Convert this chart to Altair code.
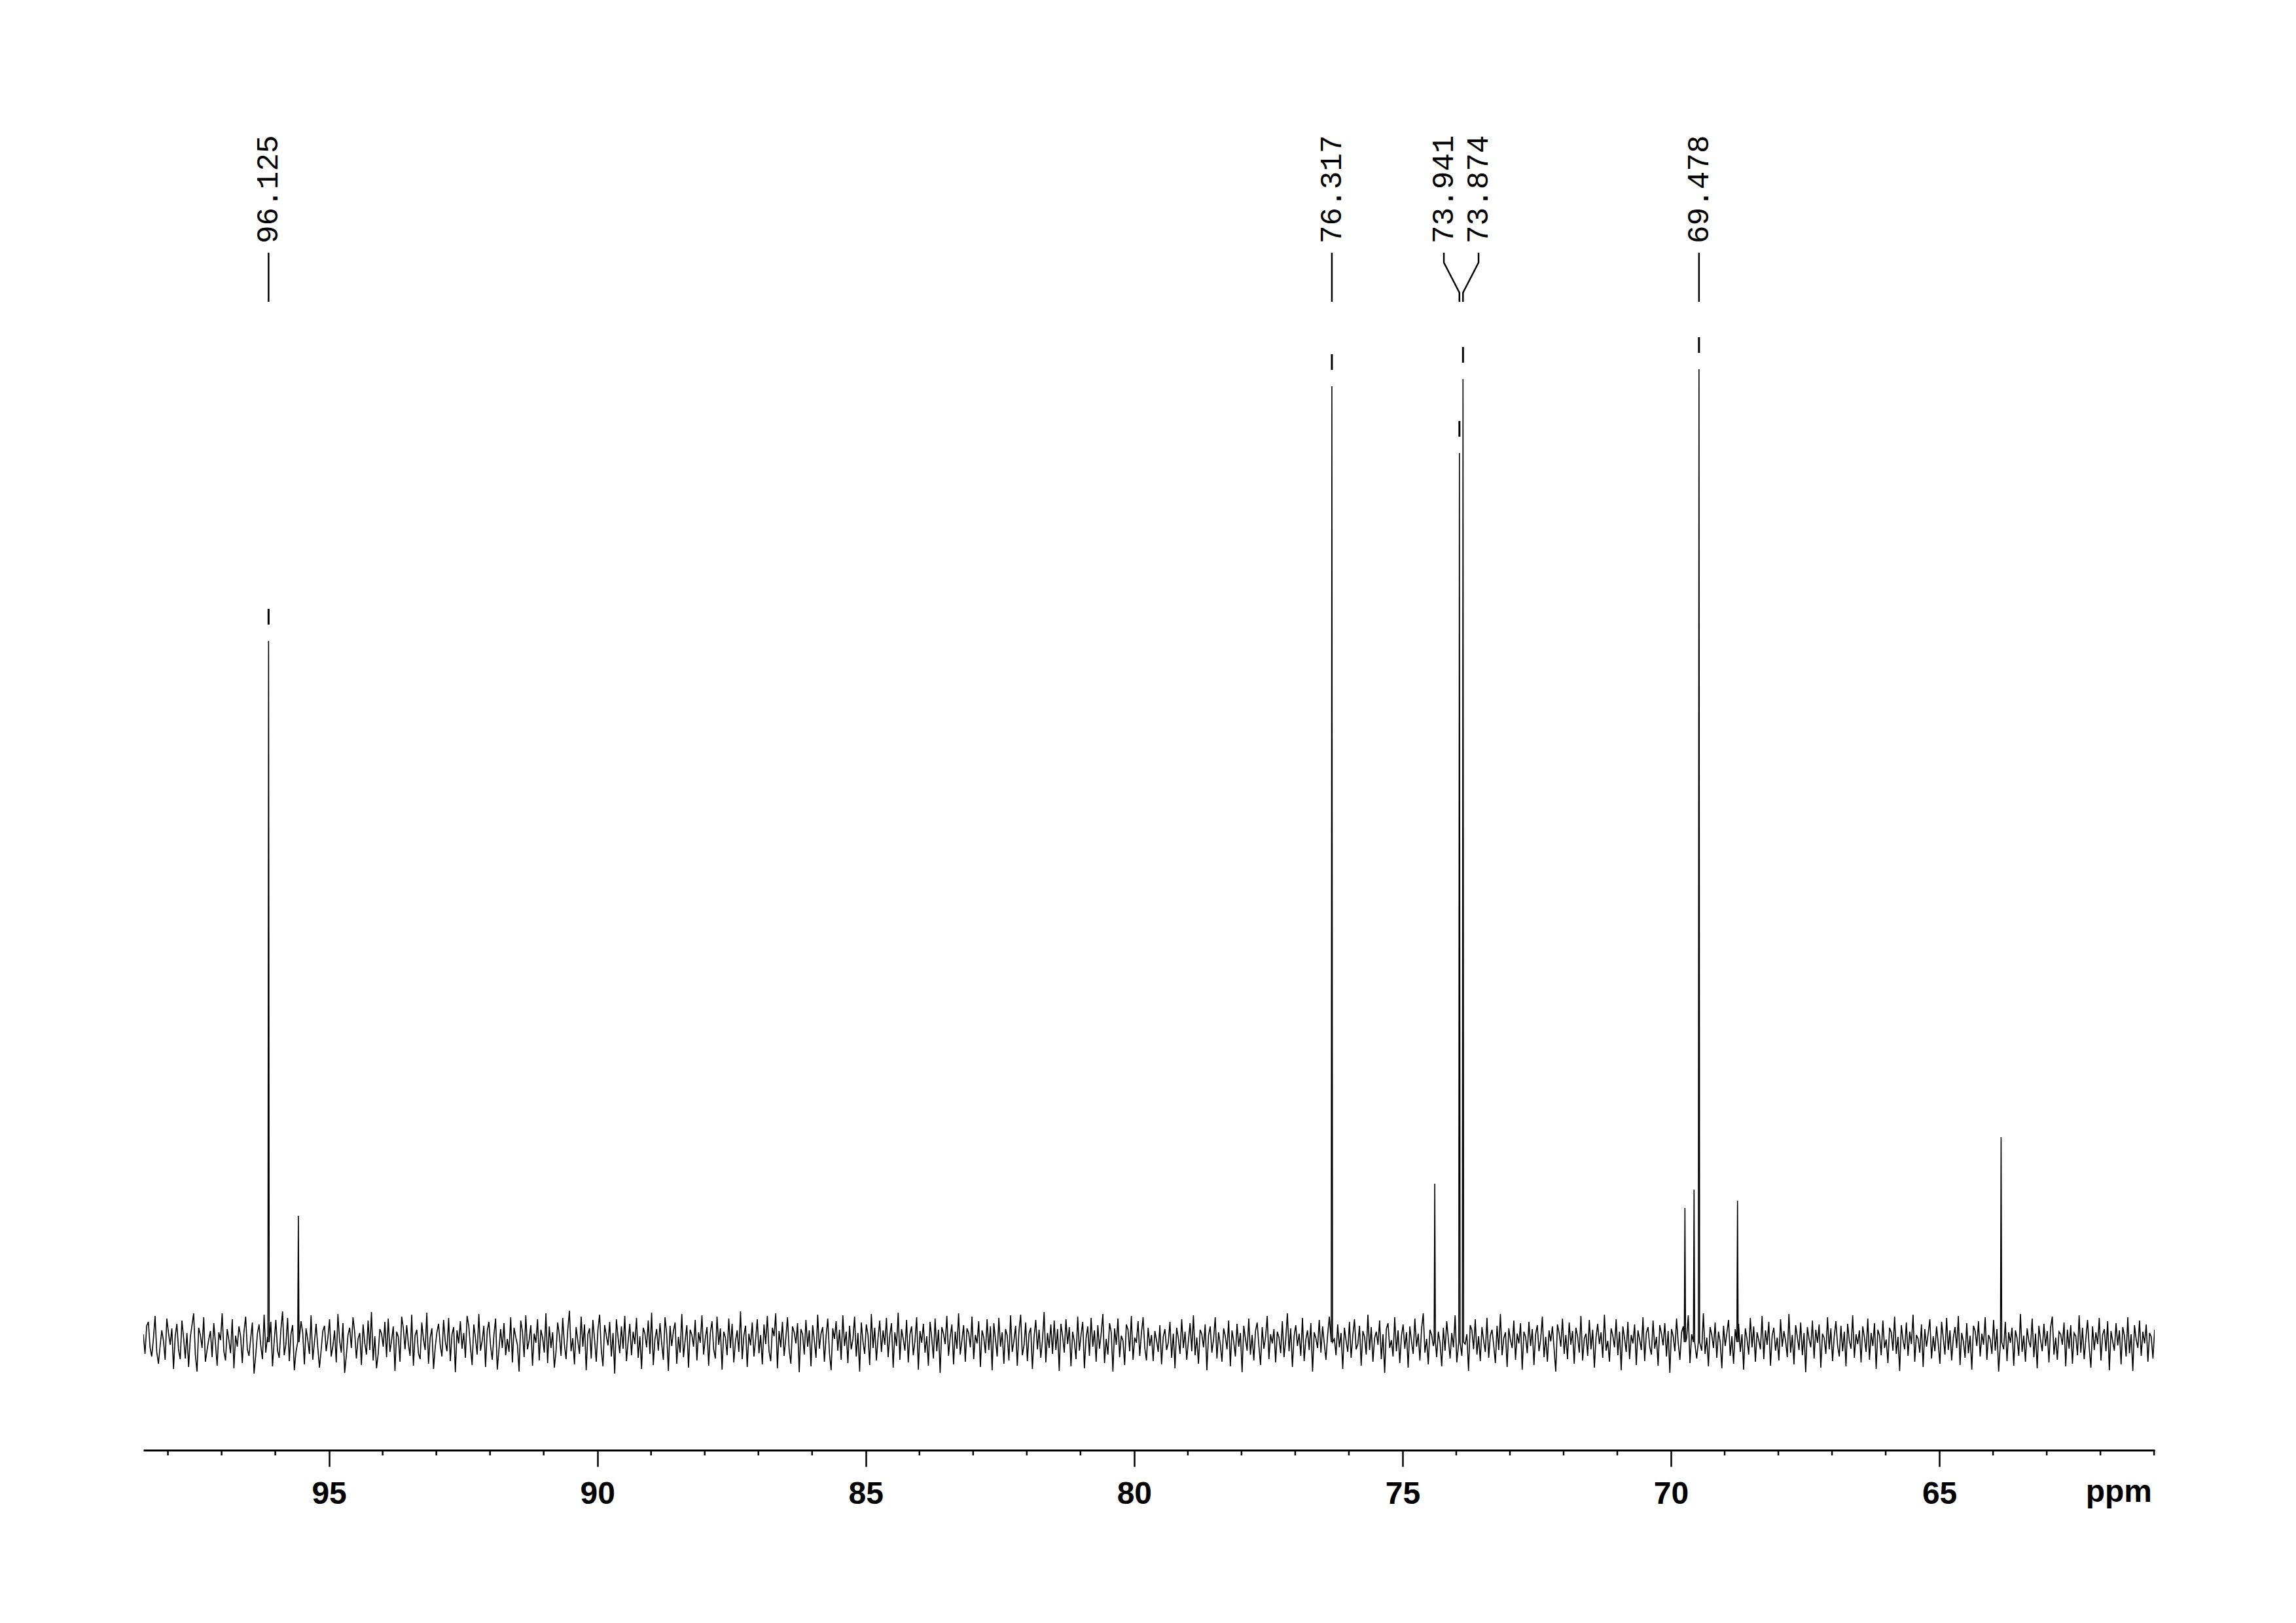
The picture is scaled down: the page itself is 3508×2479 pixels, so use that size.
import altair as alt
import numpy as np
import pandas as pd

# ---------------- data ----------------
PPM_LEFT = 98.458
PPM_RIGHT = 60.99

# baseline noise (arbitrary intensity units), left (high ppm) to right
NOISE = [
    12, -18, 25, 31, -8, -22, 5, 40, -15, -33, -6, 18, 2, -27, 36, 14, -4, 21, -41, 9, 28, -12, -26, 33, 7,
    -25, 14, -38, 7, 26, 44, -19, -45, 22, 11, -9, 38, -30, -12, 4, 17, -23, 29, -2, -36, 15, 3, 44, -14, -28,
    20, 3, -17, 35, -40, 10, -7, 24, 9, -32, 16, 39, -11, -21, 6, 30, -48, -20, 13, 27, -5, -26, 42, -16, 8,
    23, 31, -37, 1, 34, -13, -24, 19, 47, -20, -3, 37, -29, 12, 26, -43, -15, 9, -10, 32, 15, -34, 21, 4, -18,
    41, -27, 0, 28, -8, -39, -12, 17, 25, -14, 6, 35, -22, -6, 18, -31, 43, 2, -16, 29, -47, -21, 11, 22, -9,
    38, 15, -25, 5, 14, -35, 27, -1, -19, 33, -12, 46, -28, 9, -40, -18, 20, 13, -7, 31, -23, 36, -15, 3, 24,
    -44, 16, 8, -30, 39, 21, -11, 26, -3, -21, 42, -36, 10, 19, -17, -26, 30, 4, -12, 45, -33, 7, 21, -41, -8,
    15, 28, -5, -22, 34, 1, -14, 37, -29, 12, 23, -46, 18, -2, 32, -10, 14, -24, 40, 25, -8, -35, 27, 6, -19,
    43, -13, 2, 25, -38, 17, 31, -6, -27, 11, 36, -42, -11, 20, -9, 29, -20, 5, -15, 38, -31, 22, 8, -4, -45,
    33, 16, -23, 41, -11, 3, 26, -36, 13, -1, 35, -28, 19, 7, -16, 44, -32, 24, -9, 15, -39, -15, 30, 11, -21,
    37, -3, -26, 18, 48, -14, 6, -34, 23, 2, -18, 39, -7, 27, -43, 12, 21, -25, 34, 4, -30, 19, 42, -12, -37,
    26, 10, -5, 31, -22, 14, -48, 35, 7, -17, 24, -10, 40, -29, 1, 28, -20, 16, -3, 37, -24, 9, -41, 22, 13,
    -8, 33, -18, 45, -35, 5, 20, -13, 29, -2, -27, 38, 12, -44, 25, -6, 17, 30, -33, 8, -16, 43, -23, 3, 26,
    -39, 19, 11, -7, 34, -28, 15, -1, 41, -19, 6, 23, -36, 14, 32, -11, -25, 39, -4, 21, -42, 16, 7, -20, 36,
    -9, 28, -31, 2, 18, -15, 47, -26, 10, 25, -38, 13, -5, 30, -22, 4, 35, -17, 11, -34, 27, -3, 40, -14, -29,
    22, 9, 44, -40, 17, -8, 31, -21, 6, 38, -12, -33, 24, 15, -2, 29, -46, 20, 12, -19, 34, -7, 18, -37, 26,
    3, -24, 42, -10, 13, 23, -30, 8, 36, -16, -43, 21, 5, 32, -13, 19, -27, 41, -6, 16, -32, 25, -11, 4, 39,
    -22, 14, -45, 30, 1, -18, 27, 11, -35, 43, -9, 22, -28, 7, 33, -15, 18, -4, 37, -23, 10, 29, -39, 15, -6,
    45, -27, 20, 5, -13, 34, -31, 12, 24, -20, 2, 38, -42, 17, -1, 28, -16, 9, -36, 31, 6, -25, 36, -14, 19,
    -47, 23, 13, -3, 40, -21, 8, 27, -34, 16, -10, 44, -19, 3, 26, -30, 21, 14, -8, 39, -26, 11, -2, 32, -38,
    18, 7, -17, 35, -12, 24, -43, 29, 4, -22, 37, -7, 15, -33, 20, 10, -28, 41, -15, 2, 25, -36, 17, 42, -20,
    -5, 30, -29, 13, 22, -41, 8, 34, -11, 19, -24, 3, 46, -31, 14, -9, 27, -18, 33, -12, 20, -44, 28, 9, -16,
    35, -3, 23, -37, 16, 1, -26, 39, -13, 11, 31, -40, 6, 24, -21, 37, -7, 18, -30, 26, -10, 13, 43, -32, 5,
    -19, 29, 15, -45, 21, -4, 36, -23, 10, 2, -35, 27, 19, -14, 40, -27, 7, -1, 32, -21, 14, 38, -9, -28, 22,
    -6, 11, -29, 17, 3, -15, 26, -34, 8, 20, -12, -1, 31, -24, 13, -40, 22, 6, -18, 35, -9, 16, -27, 2, 29,
    -14, 41, -20, 7, -33, 19, 12, -8, 27, -43, 10, 24, -16, 4, 38, -25, 15, -3, -30, 21, 9, -11, 33, -37, 18,
    1, -22, 28, -7, 14, -46, 25, 5, -13, 36, -19, 11, -28, 17, 30, -5, -35, 23, -10, 8, 40, -26, 12, -2, 20,
    -31, 16, 7, -17, 32, -23, 3, 44, -14, 21, -38, 9, 26, -6, 13, -21, 37, -29, 4, 18, -12, 29, -45, 15, 6,
    -9, 34, -16, 24, -2, -27, 11, 39, -33, 19, 5, -20, 27, -8, 14, -41, 22, 2, -15, 31, -24, 10, 35, -11, -3,
    25, -36, 17, 8, -19, 42, -12, 23, -30, 6, 16, -4, 33, -26, 12, -47, 20, 29, -9, 3, -22, 38, -14, 18, -32,
    9, 27, -10, 15, -39, 24, 1, -18, 36, -7, 13, -28, 21, 44, -16, 5, -34, 19, 11, -6, 30, -23, 16, -1, -37,
    22, -13, 32, 4, -25, 14, -8, 41, -31, 17, 7, -21, 28, -3, 12, -44, 26, 18, -11, 35, -19, 9, -29, 23, 2,
    -15, 37, -24, 10, 19, -5, -32, 25, -12, 43, -20, 6, 15, -38, 21, 3, -9, 33, -27, 13, -2, 29, -42, 16, 8,
    -17, 31, -6, 20, -35, 12, 26, -14, 4, 39, -23, 8, -30, 18, 1, 24, -10, -45, 27, 14, -7, 36, -18, 11, -26,
    30, -4, 17, -33, 22, 9, -16, 40, -28, 5, 13, -21, 34, -11, 19, -39, 7, 28, -3, 15, -24, 42, -13, 2, -30,
    21, 10, -8, 35, -20, 16, -43, 24, 6, -15, 31, -26, 11, -2, 27, -35, 18, 4, -12, 38, -29, 14, 23, -7, -19,
    33, -10, 8, -36, 26, 13, -5, 29, -22, 17, -47, 20, 9, -14, 36, -1, -27, 15, 24, -17, 6, 41, -32, 12, -4,
    19, -25, 32, 3, -13, 44, -18, 7, -37, 23, 11, -9, 30, -24, 16, 1, -40, 25, -6, 14, 34, -21, 9, -33, 20,
    -2, 28, -15, 12, -42, 21, 5, -19, 37, -8, 24, -30, 15, 3, -11, 40, -26, 18, -4, 31, -36, 10, 22, -13, 7,
    -28, 35, -7, 17, 2, -23, 43, -16, 11, -34, 26, 8, -12, 30, -20, 14, -46, 23, 5, -8, 33, -25, 19, -1, 27,
    -39, 13, 6, -18, 38, -11, 21, -29, 9, 32, -5, -22, 25, -14, 16, -37, 28, 2, -10, 41, -24, 12, -3, 18, -31,
    24, 7, -15, 36, -27, 14, -6, 29, -41, 19, 10, -20, 33, -9, 4, -32, 22, 15, -13, 39, -18, 8, -44, 26, 3,
    -11, 30, -21, 16, -3, 42, -30, 11, 5, -16, 27, -38, 20, -7, 13, 35, -25, 9, -14, 24, -2, -33, 31, 6, -19,
    37, -12, 18, -28, 7, 23, -9, 40, -35, 14, 1, -24, 29, -17, 10, -42, 25, 17, -6, 32, -22, 13, -4, 38, -27,
    11, 4, -18, 34, -13, 20, -45, 27, 8, -11, 31, -29, 15, -1, 22, -36, 18, 6, -21, 43, -15, 10, -30, 21, 2,
    -8, 36, -23, 13, -40, 25, 3, -14, 28, -6, 17, -31, 23, 39, -19, 7, -27, 16, 12, -4, 30, -37, 19, -10, 26,
    -33, 14, 9, -20, 41, -16, 22, -26, 5, 34, -8, -39, 24, -12, 15, -3, 37, -28, 11, 20, -14, 32, -43, 17, 1,
    -13, 29, -5, 18, -34, 23, 10, -22, 38, -17, 12, -44, 26, 4, -9, 33, -21, 16, -2, 27, -30, 14, 8, -25, 19,
]

PEAK_PPM = [96.125, 95.57, 76.317, 74.40, 73.941, 73.874, 69.74, 69.57, 69.478, 68.76, 63.85]
PEAK_HEIGHT = [1071, 193, 1460, 242, 1358, 1471, 205, 233, 1486, 216, 313]

LABELS = ["96.125", "76.317", "73.941", "73.874", "69.478"]

MAJOR_TICKS = [95, 90, 85, 80, 75, 70, 65]
MINOR_TICKS = [98, 97, 96, 94, 93, 92, 91, 89, 88, 87, 86, 84, 83, 82, 81,
               79, 78, 77, 76, 74, 73, 72, 71, 69, 68, 67, 66, 64, 63, 62, 61]

# ---------------- layout constants (intensity units) ----------------
Y_MIN, Y_MAX = -165, 1900
W, H = 3073, 2065
TEXT_START = 1678
LEADER_TOP, BEND_TOP, BEND_BOTTOM, LEADER_BOTTOM = 1664, 1649, 1603, 1589
MARK_GAP, MARK_LEN = 25, 24
LABEL_MIN_GAP = 0.646  # ppm between neighbouring labels

# ---------------- build tables ----------------
noise_ppm = np.linspace(PPM_LEFT, PPM_RIGHT, len(NOISE))
peak_arr = np.array(PEAK_PPM)
rows = []
for p, v in zip(noise_ppm, NOISE):
    if np.min(np.abs(peak_arr - p)) > 0.02:
        rows.append((p, v))
for p, h in zip(PEAK_PPM, PEAK_HEIGHT):
    rows += [(p + 0.012, 0), (p, h), (p - 0.012, 0)]
spec = pd.DataFrame(rows, columns=["ppm", "intensity"]).sort_values("ppm", ascending=False)
spec["order"] = range(len(spec))

height_of = dict(zip(PEAK_PPM, PEAK_HEIGHT))
lab_ppm = [float(s) for s in LABELS]

# spread crowded labels
groups = []
for p in sorted(lab_ppm, reverse=True):
    if groups and groups[-1][-1] - p < LABEL_MIN_GAP:
        groups[-1].append(p)
    else:
        groups.append([p])
label_pos = {}
for g in groups:
    c = sum(g) / len(g)
    n = len(g)
    for i, p in enumerate(g):
        label_pos[p] = c + (n - 1) / 2 * LABEL_MIN_GAP - i * LABEL_MIN_GAP

labels_df = pd.DataFrame({
    "label": LABELS,
    "peak": lab_ppm,
    "ppm": [label_pos[p] for p in lab_ppm],
    "intensity": [TEXT_START] * len(LABELS),
})

marks_df = pd.DataFrame({
    "ppm": lab_ppm,
    "intensity": [height_of[p] + MARK_GAP for p in lab_ppm],
    "intensity2": [height_of[p] + MARK_GAP + MARK_LEN for p in lab_ppm],
})

lead_rows = []
for s, p in zip(LABELS, lab_ppm):
    lp = label_pos[p]
    for i, (xx, yy) in enumerate([(lp, LEADER_TOP), (lp, BEND_TOP), (p, BEND_BOTTOM), (p, LEADER_BOTTOM)]):
        lead_rows.append((s, i, xx, yy))
lead_df = pd.DataFrame(lead_rows, columns=["label", "idx", "ppm", "intensity"])

minor_df = pd.DataFrame({"ppm": MINOR_TICKS})

# ---------------- chart ----------------
xs = alt.Scale(domain=[PPM_LEFT, PPM_RIGHT], nice=False, zero=False)
ys = alt.Scale(domain=[Y_MIN, Y_MAX], nice=False, zero=False)

x_axis = alt.Axis(values=MAJOR_TICKS, format="d", labelFont="Liberation Sans", labelFontSize=48,
                  labelFontWeight="bold", labelColor="black", labelPadding=18, tickSize=25,
                  tickWidth=2.5, tickColor="black", domainColor="black", domainWidth=3,
                  grid=False, title=None, labelFlush=False, labelOverlap=False)

line = alt.Chart(spec).mark_line(color="black", strokeWidth=1.6, clip=True).encode(
    x=alt.X("ppm:Q", scale=xs, axis=x_axis),
    y=alt.Y("intensity:Q", scale=ys, axis=None),
    order=alt.Order("order:Q"),
)

markers = alt.Chart(marks_df).mark_rule(color="black", strokeWidth=3).encode(
    x=alt.X("ppm:Q", scale=xs),
    y=alt.Y("intensity:Q", scale=ys, axis=None),
    y2="intensity2:Q",
)

leaders = alt.Chart(lead_df).mark_line(color="black", strokeWidth=2.5).encode(
    x=alt.X("ppm:Q", scale=xs),
    y=alt.Y("intensity:Q", scale=ys, axis=None),
    detail="label:N",
    order=alt.Order("idx:Q"),
)

texts = alt.Chart(labels_df).mark_text(angle=270, align="left", baseline="middle",
                                       font="Liberation Mono", fontSize=46, color="black").encode(
    x=alt.X("ppm:Q", scale=xs),
    y=alt.Y("intensity:Q", scale=ys, axis=None),
    text="label:N",
)

minor = alt.Chart(minor_df).mark_rule(color="black", strokeWidth=2.5).encode(
    x=alt.X("ppm:Q", scale=xs),
    y=alt.value(H),
    y2=alt.value(H + 8),
)

unit = alt.Chart(pd.DataFrame({"t": ["ppm"]})).mark_text(
    align="right", baseline="alphabetic", font="Liberation Sans", fontSize=48,
    fontWeight="bold", color="black").encode(
    text="t:N", x=alt.value(W - 4), y=alt.value(H + 79),
)

chart = alt.layer(line, markers, leaders, texts, minor, unit).properties(
    width=W, height=H, autosize="none",
    padding={"left": 211, "top": 142, "right": 200, "bottom": 240},
).configure_view(stroke=None)

chart.save("out.html", embed_options={"renderer": "svg", "actions": False})
